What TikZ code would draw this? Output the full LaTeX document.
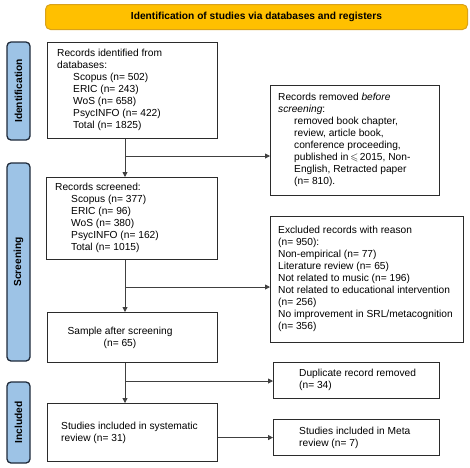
\documentclass[tikz,border=0pt]{standalone}
\usepackage{amssymb}
\usepackage{fontspec}
\setmainfont{Liberation Sans}
\usetikzlibrary{arrows.meta}
\definecolor{gold}{HTML}{FFC000}
\definecolor{goldline}{HTML}{D9A21B}
\definecolor{phaseblue}{HTML}{9DC3E6}
\definecolor{navy}{HTML}{1F2A3A}
\definecolor{boxline}{HTML}{2B2B2B}
\begin{document}
\begin{tikzpicture}[x=1pt,y=-1pt,
 box/.style={draw=boxline,line width=1.1pt,inner sep=0pt,anchor=north west},
 txt/.style={anchor=west,align=left,inner sep=0pt,font=\fontsize{10.2}{12}\selectfont},
 phase/.style={draw=navy,fill=phaseblue,line width=1.3pt,rounded corners=4pt,inner sep=0pt,rotate=90,font=\fontsize{10.2}{12}\selectfont\bfseries},
 arr/.style={draw=black!75,line width=0.9pt,-{Triangle[length=5pt,width=5pt]}}]
\useasboundingbox (0,0) rectangle (470,467);
% title
\node[draw=goldline,fill=gold,rounded corners=5pt,line width=1pt,minimum width=422pt,minimum height=25pt,anchor=north west,inner sep=0pt,font=\fontsize{10.2}{12}\selectfont\bfseries] (title) at (45,4) {Identification of studies via databases and registers};
% phases
\node[phase,minimum width=98pt,minimum height=23pt] (pid) at (18.5,91) {Identification};
\node[phase,minimum width=198pt,minimum height=23pt] (psc) at (18.5,262) {Screening};
\node[phase,minimum width=81pt,minimum height=23pt] (pin) at (18.5,422.5) {Included};
% boxes
\node[box,minimum width=170pt,minimum height=96pt] (b1) at (47,42) {};
\node[txt] (t1) at (57,90) {Records identified from\\databases:\\\hspace*{16pt}Scopus (n= 502)\\\hspace*{16pt}ERIC (n= 243)\\\hspace*{16pt}WoS (n= 658)\\\hspace*{16pt}PsycINFO (n= 422)\\\hspace*{16pt}Total (n= 1825)};
\node[box,minimum width=169pt,minimum height=110pt] (rm) at (270,85) {};
\node[txt] (trm) at (278,140) {Records removed \textit{before}\\\textit{screening}:\\\hspace*{16pt}removed book chapter,\\\hspace*{16pt}review, article book,\\\hspace*{16pt}conference proceeding,\\\hspace*{16pt}published in\,$\leqslant$\,2015, Non-\\\hspace*{16pt}English, Retracted paper\\\hspace*{16pt}(n= 810).};
\node[box,minimum width=171pt,minimum height=82pt] (b2) at (46,177) {};
\node[txt] (t2) at (55,218) {Records screened:\\\hspace*{16pt}Scopus (n= 377)\\\hspace*{16pt}ERIC (n= 96)\\\hspace*{16pt}WoS (n= 380)\\\hspace*{16pt}PsycINFO (n= 162)\\\hspace*{16pt}Total (n= 1015)};
\node[box,minimum width=193pt,minimum height=126pt] (ex) at (270,216) {};
\node[txt] (tex) at (278,279) {Excluded records with reason\\(n= 950):\\Non-empirical (n= 77)\\Literature review (n= 65)\\Not related to music (n= 196)\\Not related to educational intervention\\(n= 256)\\No improvement in SRL/metacognition\\(n= 356)};
\node[box,minimum width=170pt,minimum height=50pt] (sm) at (47,312) {};
\node[txt,anchor=center,align=center] (tsm) at (120,337.5) {Sample after screening\\(n= 65)};
\node[box,minimum width=166pt,minimum height=36pt] (dup) at (273,362) {};
\node[txt] (tdup) at (299,380) {Duplicate record removed\\(n= 34)};
\node[box,minimum width=170pt,minimum height=58pt] (inc) at (47,403) {};
\node[txt] (tinc) at (61,432.5) {Studies included in systematic\\review (n= 31)};
\node[box,minimum width=166pt,minimum height=36pt] (meta) at (273,419) {};
\node[txt] (tmeta) at (299,437.5) {Studies included in Meta\\review (n= 7)};
% connectors
\coordinate (j1) at (125,156);
\coordinate (j2) at (125,287);
\coordinate (j3) at (125,381);
\draw[arr] (b1.south -| j1) -- (b2.north -| j1);
\draw[arr] (j1) -- (j1 -| rm.west);
\draw[arr] (b2.south -| j2) -- (sm.north -| j2);
\draw[arr] (j2) -- (j2 -| ex.west);
\draw[arr] (sm.south -| j3) -- (inc.north -| j3);
\draw[arr] (j3) -- (j3 -| dup.west);
\draw[arr] (inc.east |- meta.west) -- (meta.west);
\end{tikzpicture}
\end{document}
